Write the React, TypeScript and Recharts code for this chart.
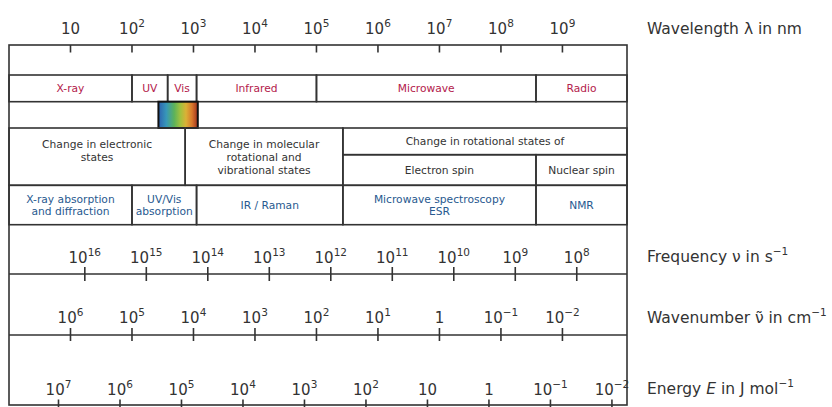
import React from 'react';
import { ComposedChart, XAxis, YAxis, ReferenceArea, ReferenceLine, Scatter } from 'recharts';

// x positions are log10(wavelength / nm)
const LOG_LAMBDA_MAX = 10.05;

const bandNames = ['X-ray', 'UV', 'Vis', 'Infrared', 'Microwave', 'Radio'];
const bandEdges = [0, 2, 2.58, 3.05, 5, 8.57, 10.05];

const visibleRange = [2.43, 3.07];

const transitionLabels = [
  ['Change in electronic', 'states', ''],
  ['Change in molecular', 'rotational and', 'vibrational states'],
];
const transitionEdges = [0, 2.865, 5.43];
const rotationLabel = 'Change in rotational states of';
const rotationRange = [5.43, 10.05];
const spinLabels = ['Electron spin', 'Nuclear spin'];
const spinEdges = [5.43, 8.57, 10.05];

const methodLabels = [
  ['X-ray absorption', 'and diffraction'],
  ['UV/Vis', 'absorption'],
  ['IR / Raman'],
  ['Microwave spectroscopy', 'ESR'],
  ['NMR'],
];
const methodEdges = [0, 2, 3.05, 5.43, 8.57, 10.05];

// scale alignment: log10(lambda) = k - log10(other quantity)
const FREQ_K = 17.233;
const WAVENUMBER_K = 7;
const ENERGY_K = 7.805;

const wavelengthExps = [1, 2, 3, 4, 5, 6, 7, 8, 9];
const wavelengthTicks = ['10', '10^2', '10^3', '10^4', '10^5', '10^6', '10^7', '10^8', '10^9'];
const frequencyExps = [16, 15, 14, 13, 12, 11, 10, 9, 8];
const frequencyTicks = ['10^16', '10^15', '10^14', '10^13', '10^12', '10^11', '10^10', '10^9', '10^8'];
const wavenumberExps = [6, 5, 4, 3, 2, 1, 0, -1, -2];
const wavenumberTicks = ['10^6', '10^5', '10^4', '10^3', '10^2', '10^1', '1', '10^\u22121', '10^\u22122'];
const energyExps = [7, 6, 5, 4, 3, 2, 1, 0, -1, -2];
const energyTicks = ['10^7', '10^6', '10^5', '10^4', '10^3', '10^2', '10', '1', '10^\u22121', '10^\u22122'];

const FONT = '"DejaVu Sans", Verdana, sans-serif';
const LINE = '#333';
const TEXT = '#333';
const RED = '#b3204b';
const BLUE = '#28598f';
const CELL_FONT = 10.7;

// rows, in y units = px below the top border
const TOP = 0;
const BAND = [30, 56.7];
const TRANS = [83, 140.3];
const TRANS_SPLIT = 109.7;
const METHOD = [140.3, 179.7];
const FREQ_LINE = 229;
const WN_LINE = 290;
const BOTTOM = 360;

const visStops = [
  ['0%', '#2d62b0'],
  ['20%', '#3797b9'],
  ['40%', '#5cb25a'],
  ['56%', '#a2c13e'],
  ['70%', '#dbb136'],
  ['85%', '#d9792c'],
  ['100%', '#a2311f'],
];

// band edges expressed on every scale, so each axis gets its domain from data
const edgePoints = bandEdges.map((e) => ({
  lx: e,
  nu: FREQ_K - e,
  wn: WAVENUMBER_K - e,
  en: ENERGY_K - e,
  ly: BAND[0],
}));

const PowerText = ({ x, y, text, size, anchor = 'middle' }: any) => {
  const [base, sup] = text.split('^');
  return (
    <text x={x} y={y} textAnchor={anchor} fontFamily={FONT} fontSize={size} fill={TEXT}>
      <tspan>{base}</tspan>
      {sup && (
        <tspan dy={-size * 0.5} fontSize={size * 0.7}>
          {sup}
        </tspan>
      )}
    </text>
  );
};

const makeTick = (exps: number[], labels: string[], t1: number, t2: number, base: number) => (props: any) => {
  const { x, payload } = props;
  const i = exps.indexOf(payload.value);
  if (i < 0) return <g />;
  return (
    <g>
      <line x1={x} x2={x} y1={t1} y2={t2} stroke={LINE} strokeWidth={1.6} />
      <PowerText x={x} y={base} text={labels[i]} size={15} />
    </g>
  );
};

const cellShape = (lines: string[], color: string, lineH: number) => (p: any) => {
  const { x, y, width, height } = p;
  const cx = x + width / 2;
  const first = y + height / 2 - ((lines.length - 1) * lineH) / 2 + CELL_FONT * 0.36;
  return (
    <g>
      <rect x={x} y={y} width={width} height={height} fill="none" stroke={LINE} strokeWidth={1.6} />
      <text textAnchor="middle" fontFamily={FONT} fontSize={CELL_FONT} fill={color}>
        {lines.map((l, i) => (
          <tspan key={i} x={cx} y={first + i * lineH}>
            {l}
          </tspan>
        ))}
      </text>
    </g>
  );
};

const visShape = (p: any) => (
  <g>
    <defs>
      <linearGradient id="visGrad" x1="0" x2="1" y1="0" y2="0">
        {visStops.map(([o, c]) => (
          <stop key={o} offset={o} stopColor={c} />
        ))}
      </linearGradient>
    </defs>
    <rect x={p.x} y={p.y} width={p.width} height={p.height} fill="url(#visGrad)" stroke="#111" strokeWidth={2} />
  </g>
);

const boxShape = (p: any) => (
  <rect x={p.x} y={p.y} width={p.width} height={p.height} fill="none" stroke={LINE} strokeWidth={1.6} />
);

const noMark = () => <g />;

const AxisTitles = () => (
  <g fontFamily={FONT} fontSize={15.5} fill={TEXT}>
    <text x={647} y={34}>Wavelength λ in nm</text>
    <text x={647} y={262}>
      Frequency ν in s<tspan dy={-7} fontSize={10.5}>{'\u22121'}</tspan>
    </text>
    <text x={647} y={323}>
      Wavenumber ν̃ in cm<tspan dy={-7} fontSize={10.5}>{'\u22121'}</tspan>
    </text>
    <text x={647} y={394}>
      Energy <tspan fontStyle="italic">E</tspan> in J mol<tspan dy={-7} fontSize={10.5}>{'\u22121'}</tspan>
    </text>
  </g>
);

// each axis takes 1px; two sit on top and two at the bottom, margins compensate
const axisCommon = {
  type: 'number' as const,
  interval: 0,
  height: 1,
  allowDataOverflow: true,
  axisLine: false,
  tickLine: false,
};

export default function App() {
  return (
    <div style={{ position: 'absolute', left: 0, top: 0, width: 832, height: 407, overflow: 'hidden', background: '#fff' }}>
      <ComposedChart
        width={832}
        height={407}
        data={edgePoints}
        margin={{ top: 43, right: 205, bottom: 0, left: 9 }}
      >
        <XAxis
          {...axisCommon}
          xAxisId={0}
          dataKey="lx"
          orientation="top"
          domain={[0, LOG_LAMBDA_MAX]}
          ticks={wavelengthExps}
          tick={makeTick(wavelengthExps, wavelengthTicks, 45, 52.5, 34)}
        />
        <XAxis
          {...axisCommon}
          xAxisId="freq"
          dataKey="nu"
          orientation="top"
          domain={[FREQ_K - LOG_LAMBDA_MAX, FREQ_K]}
          reversed
          ticks={frequencyExps}
          tick={makeTick(frequencyExps, frequencyTicks, 267, 281, 263)}
        />
        <XAxis
          {...axisCommon}
          xAxisId="wn"
          dataKey="wn"
          domain={[WAVENUMBER_K - LOG_LAMBDA_MAX, WAVENUMBER_K]}
          reversed
          ticks={wavenumberExps}
          tick={makeTick(wavenumberExps, wavenumberTicks, 328, 341, 323)}
        />
        <XAxis
          {...axisCommon}
          xAxisId="en"
          dataKey="en"
          domain={[ENERGY_K - LOG_LAMBDA_MAX, ENERGY_K]}
          reversed
          ticks={energyExps}
          tick={makeTick(energyExps, energyTicks, 399.5, 408, 395)}
        />
        <YAxis yAxisId={0} dataKey="ly" hide type="number" domain={[TOP, BOTTOM]} reversed allowDataOverflow />

        <Scatter xAxisId={0} yAxisId={0} dataKey="ly" isAnimationActive={false} shape={noMark} />
        <Scatter xAxisId="freq" yAxisId={0} dataKey="ly" isAnimationActive={false} shape={noMark} />
        <Scatter xAxisId="wn" yAxisId={0} dataKey="ly" isAnimationActive={false} shape={noMark} />
        <Scatter xAxisId="en" yAxisId={0} dataKey="ly" isAnimationActive={false} shape={noMark} />

        {bandNames.map((n, i) => (
          <ReferenceArea
            key={n}
            x1={bandEdges[i]}
            x2={bandEdges[i + 1]}
            y1={BAND[0]}
            y2={BAND[1]}
            shape={cellShape([n], RED, 13)}
          />
        ))}
        <ReferenceArea x1={visibleRange[0]} x2={visibleRange[1]} y1={BAND[1]} y2={TRANS[0]} shape={visShape} />

        {transitionLabels.map((l, i) => (
          <ReferenceArea
            key={i}
            x1={transitionEdges[i]}
            x2={transitionEdges[i + 1]}
            y1={TRANS[0]}
            y2={TRANS[1]}
            shape={cellShape(l, TEXT, 13)}
          />
        ))}
        <ReferenceArea
          x1={rotationRange[0]}
          x2={rotationRange[1]}
          y1={TRANS[0]}
          y2={TRANS_SPLIT}
          shape={cellShape([rotationLabel], TEXT, 13)}
        />
        {spinLabels.map((n, i) => (
          <ReferenceArea
            key={n}
            x1={spinEdges[i]}
            x2={spinEdges[i + 1]}
            y1={TRANS_SPLIT}
            y2={TRANS[1]}
            shape={cellShape([n], TEXT, 13)}
          />
        ))}

        {methodLabels.map((l, i) => (
          <ReferenceArea
            key={i}
            x1={methodEdges[i]}
            x2={methodEdges[i + 1]}
            y1={METHOD[0]}
            y2={METHOD[1]}
            shape={cellShape(l, BLUE, 11.4)}
          />
        ))}

        <ReferenceLine y={FREQ_LINE} stroke={LINE} strokeWidth={1.6} />
        <ReferenceLine y={WN_LINE} stroke={LINE} strokeWidth={1.6} />
        <ReferenceArea x1={0} x2={LOG_LAMBDA_MAX} y1={TOP} y2={BOTTOM} shape={boxShape} />

        <AxisTitles />
      </ComposedChart>
    </div>
  );
}
